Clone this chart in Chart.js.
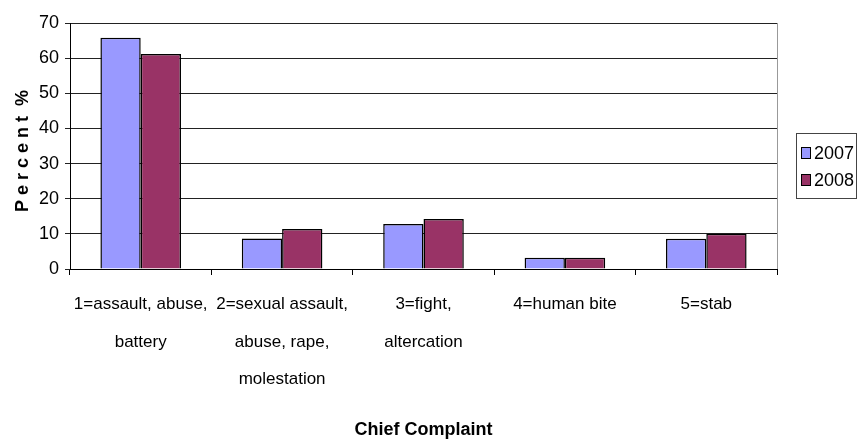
<!DOCTYPE html>
<html>
<head>
<meta charset="utf-8">
<script src="https://cdn.jsdelivr.net/npm/chart.js@4"></script>
<style>
  body { margin: 0; background: #fff; }
  #wrap { width: 860px; height: 445px; }
</style>
</head>
<body>
<div id="wrap"><canvas id="chart" width="860" height="445"></canvas></div>
<script>
// Data
const categories = [
  ["1=assault, abuse,", "battery"],
  ["2=sexual assault,", "abuse, rape,", "molestation"],
  ["3=fight,", "altercation"],
  ["4=human bite"],
  ["5=stab"]
];
const seriesNames = ["2007", "2008"];
const values2007 = [65.8, 8.7, 12.8, 3.2, 8.6];
const values2008 = [61.2, 11.4, 14.2, 3.2, 10.0];
const yTicks = [0, 10, 20, 30, 40, 50, 60, 70];

const colors = ["#9999ff", "#993366"];
const FONT = "'Liberation Sans', Arial, sans-serif";

// Legend box and right edge of the plot
const frame = {
  id: "frame",
  afterDraw(chart) {
    const ctx = chart.ctx;
    const a = chart.chartArea;
    ctx.save();
    ctx.strokeStyle = "#999";
    ctx.lineWidth = 1;
    ctx.beginPath();
    ctx.moveTo(Math.round(a.right) + 0.5, a.top);
    ctx.lineTo(Math.round(a.right) + 0.5, a.bottom);
    ctx.stroke();

    // legend
    const x = a.right + 19, y = 133, w = 60, h = 65;
    ctx.strokeStyle = "#444";
    ctx.strokeRect(x + 0.5, y + 0.5, w, h);
    ctx.font = "18px " + FONT;
    ctx.textBaseline = "middle";
    chart.data.datasets.forEach((ds, i) => {
      const cy = y + 20 + i * 27;
      ctx.fillStyle = ds.backgroundColor;
      ctx.fillRect(x + 5.5, cy - 5.5, 9, 11);
      ctx.strokeStyle = "#000";
      ctx.strokeRect(x + 5.5, cy - 5.5, 9, 11);
      ctx.fillStyle = "#000";
      ctx.fillText(ds.label, x + 18, cy + 1);
    });
    ctx.restore();
  }
};

new Chart(document.getElementById("chart"), {
  type: "bar",
  data: {
    labels: categories,
    datasets: [
      { label: seriesNames[0], data: values2007, backgroundColor: colors[0] },
      { label: seriesNames[1], data: values2008, backgroundColor: colors[1] }
    ]
  },
  options: {
    responsive: false,
    animation: false,
    layout: { padding: { top: 23, right: 83, left: 0, bottom: 0 } },
    datasets: {
      bar: {
        borderColor: "#000",
        borderWidth: 1.5,
        categoryPercentage: 0.57,
        barPercentage: 1.0
      }
    },
    plugins: {
      legend: { display: false },
      tooltip: { enabled: false }
    },
    scales: {
      x: {
        grid: { offset: true, drawOnChartArea: false, color: "#000", tickLength: 6 },
        border: { color: "#000", width: 1 },
        ticks: {
          color: "#000",
          maxRotation: 0,
          autoSkip: false,
          padding: 11,
          font: { family: FONT, size: 17, lineHeight: 2.2 }
        },
        title: {
          display: true,
          text: "Chief Complaint",
          color: "#000",
          padding: { top: 0, bottom: 4 },
          font: { family: FONT, size: 18, weight: "bold" }
        },
        afterFit(scale) { scale.height = 176; }
      },
      y: {
        min: 0,
        max: 70,
        afterBuildTicks(scale) { scale.ticks = yTicks.map(v => ({ value: v })); },
        grid: { color: "#222", lineWidth: 1, tickLength: 5 },
        border: { color: "#000", width: 1 },
        ticks: {
          color: "#000",
          padding: 6,
          font: { family: FONT, size: 18 }
        },
        title: {
          display: true,
          text: "P e r c e n t  %  ",
          color: "#000",
          padding: { top: 12, bottom: 0 },
          font: { family: FONT, size: 18, weight: "bold" }
        },
        afterFit(scale) { scale.width = 70; }
      }
    }
  },
  plugins: [frame]
});
</script>
</body>
</html>
